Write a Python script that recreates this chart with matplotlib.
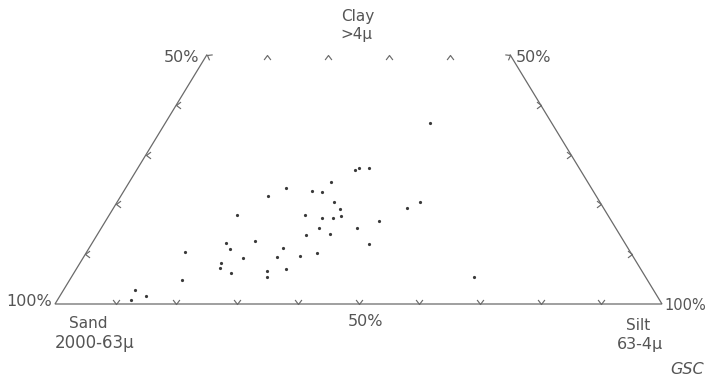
import numpy as np
import matplotlib
matplotlib.use("Agg")
import matplotlib.pyplot as plt
from matplotlib.path import Path

# Sample grain-size composition (percent)
sand = [20.0, 37.1, 36.2, 34.6, 42.4, 50.3, 46.3, 44.8, 54.1, 43.8, 29.6, 32.4,
        43.5, 61.1, 49.8, 47.3, 45.6, 44.0, 38.3, 48.9, 42.6, 51.7, 47.7, 65.8,
        65.6, 60.7, 42.2, 56.8, 51.7, 64.4, 58.7, 54.8, 68.5, 69.2, 67.9, 61.8,
        62.3, 58.4, 73.4, 76.7, 85.3, 87.0, 84.2, 28.2]
silt = [43.7, 35.9, 36.4, 38.1, 33.2, 26.4, 31.0, 32.8, 24.2, 35.7, 49.9, 48.4,
        37.4, 21.1, 32.3, 35.4, 37.1, 38.3, 45.0, 35.9, 42.1, 34.5, 38.3, 22.0,
        23.3, 26.7, 45.7, 31.9, 38.1, 26.4, 31.8, 35.6, 23.3, 23.6, 25.8, 31.6,
        32.3, 34.5, 16.1, 18.4, 11.8, 12.1, 14.1, 66.4]
clay = [36.3, 27.0, 27.4, 27.3, 24.4, 23.3, 22.7, 22.4, 21.7, 20.5, 20.5, 19.2,
        19.1, 17.8, 17.9, 17.3, 17.3, 17.7, 16.7, 15.2, 15.3, 13.8, 14.0, 12.2,
        11.1, 12.6, 12.1, 11.3, 10.2, 9.2, 9.5, 9.6, 8.2, 7.2, 6.3, 6.6,
        5.4, 7.1, 10.5, 4.9, 2.9, 0.9, 1.7, 5.4]

tick_pct = [10, 20, 30, 40]
base_ticks = [10, 20, 30, 40, 50, 60, 70, 80, 90]

W, H = 708, 385
fig = plt.figure(figsize=(W / 100, H / 100), dpi=100)
ax = fig.add_axes([55 / W, 81 / H, 607 / W, 249 / H])
ax.set_xlim(0, 100)
ax.set_ylim(0, 50)
ax.axis("off")

line_c = "#6a6a6a"
text_c = "#555555"


def tern(sa, si, cl):
    sa, si, cl = map(np.asarray, (sa, si, cl))
    tot = sa + si + cl
    si = si / tot * 100
    cl = cl / tot * 100
    return si + cl / 2, cl


def chevron(angle):
    a = np.deg2rad(angle)
    R = np.array([[np.cos(a), -np.sin(a)], [np.sin(a), np.cos(a)]])
    v = np.array([[-0.75, 1.0], [0.0, 0.0], [0.75, 1.0]]) @ R.T
    return Path(v, [Path.MOVETO, Path.LINETO, Path.LINETO])


# frame: left, bottom, right (top is open)
fx, fy = tern([50, 100, 0, 0], [0, 0, 100, 50], [50, 0, 0, 50])
ax.plot(fx, fy, color=line_c, lw=0.9, clip_on=False, solid_joinstyle="miter")

mk = dict(color=line_c, mew=0.85, ms=6.5, ls="none", clip_on=False, mfc="none")
# bottom ticks
bx, by = tern([100 - t for t in base_ticks], base_ticks, [0] * len(base_ticks))
ax.plot(bx, by, marker=chevron(0), **mk)
# top ticks
tx, ty = tern([50 - t for t in tick_pct], tick_pct, [50] * len(tick_pct))
ax.plot(tx, ty, marker=chevron(180), **mk)
# left ticks
lx, ly = tern([100 - t for t in tick_pct], [0] * 4, tick_pct)
ax.plot(lx, ly, marker=chevron(-90), **mk)
# right ticks
rx, ry = tern([0] * 4, [100 - t for t in tick_pct], tick_pct)
ax.plot(rx, ry, marker=chevron(90), **mk)
# corner marks
mk_c = dict(mk, ms=7.5)
cx, cy = tern([50], [0], [50])
ax.plot(cx, cy, marker=chevron(-120), **mk_c)
cx, cy = tern([0], [50], [50])
ax.plot(cx, cy, marker=chevron(120), **mk_c)

# data points
px, py = tern(sand, silt, clay)
ax.plot(px, py, ls="none", marker="o", ms=2.3, color="#3a3a3a", mew=0)

kw = dict(color=text_c, family="DejaVu Sans")
ft = fig.text
ft(358 / W, 1 - 17 / H, "Clay", ha="center", va="center", fontsize=11, **kw)
ft(356 / W, 1 - 34 / H, ">4µ", ha="center", va="center", fontsize=11, **kw)
ft(199 / W, 1 - 57 / H, "50%", ha="right", va="center", fontsize=11.5, **kw)
ft(516 / W, 1 - 58 / H, "50%", ha="left", va="center", fontsize=11.5, **kw)
ft(52 / W, 1 - 302 / H, "100%", ha="right", va="center", fontsize=11.5, **kw)
ft(664 / W, 1 - 305 / H, "100%", ha="left", va="center", fontsize=10.5, **kw)
ft(88 / W, 1 - 323 / H, "Sand", ha="center", va="center", fontsize=11, **kw)
ft(95 / W, 1 - 343 / H, "2000-63µ", ha="center", va="center", fontsize=12, **kw)
ft(366 / W, 1 - 321 / H, "50%", ha="center", va="center", fontsize=11.5, **kw)
ft(638 / W, 1 - 325 / H, "Silt", ha="center", va="center", fontsize=11, **kw)
ft(640 / W, 1 - 345 / H, "63-4µ", ha="center", va="center", fontsize=11.5, **kw)
ft(704 / W, 1 - 369 / H, "GSC", ha="right", va="center", style="italic",
   fontsize=11.5, **kw)

fig.savefig("out.png", dpi=100, facecolor="white")
